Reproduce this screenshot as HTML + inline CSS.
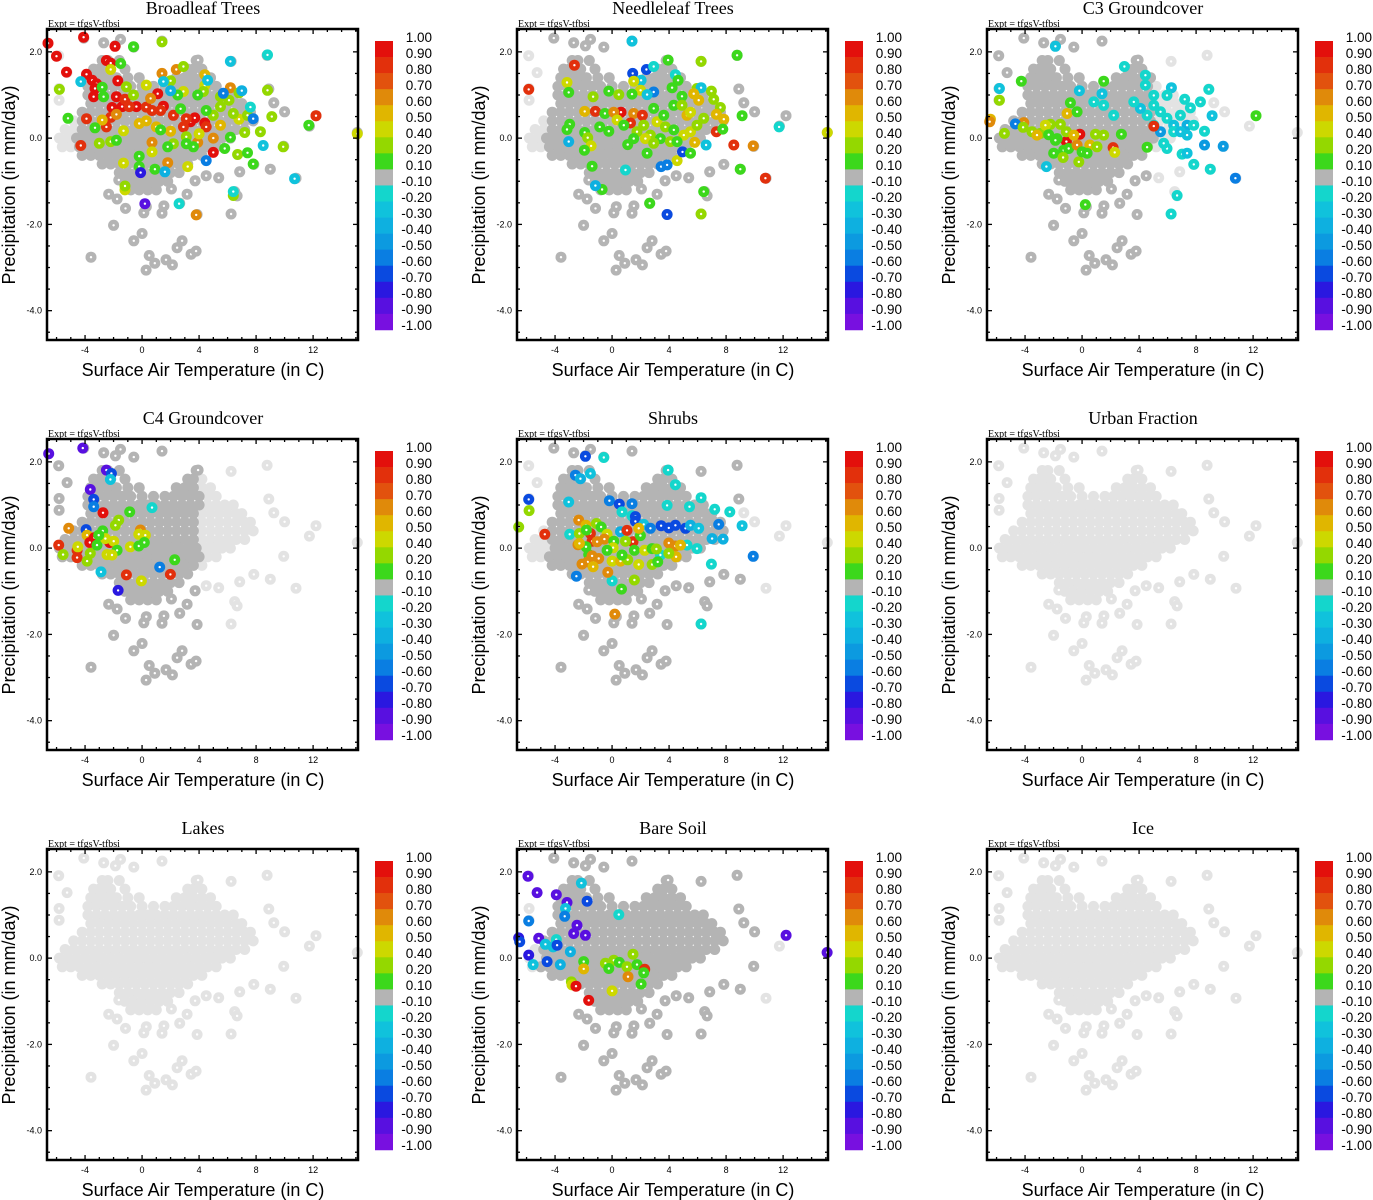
<!DOCTYPE html>
<html><head><meta charset="utf-8"><style>
html,body{margin:0;padding:0;background:#fff;}
svg{display:block;}
.ttl{font-family:"Liberation Serif",serif;font-size:18px;}
.expt{font-family:"Liberation Serif",serif;font-size:10px;}
.tk{font-family:"Liberation Sans",sans-serif;font-size:9px;}
.ax{font-family:"Liberation Sans",sans-serif;font-size:18px;}
.cb{font-family:"Liberation Sans",sans-serif;font-size:13.5px;}
</style></head><body>
<svg id="chart" width="1373" height="1200" xmlns="http://www.w3.org/2000/svg"></svg>
<script>
// ---- data ----
const panelTitles = ["Broadleaf Trees","Needleleaf Trees","C3 Groundcover","C4 Groundcover","Shrubs","Urban Fraction","Lakes","Bare Soil","Ice"];
const xTicks = [-4,0,4,8,12];
const yTicks = [2,0,-2,-4];
const yTickLabels = ["2.0","0.0","-2.0","-4.0"];
const cbLabels = ["1.00","0.90","0.80","0.70","0.60","0.50","0.40","0.20","0.10","-0.10","-0.20","-0.30","-0.40","-0.50","-0.60","-0.70","-0.80","-0.90","-1.00"];
const cbBounds = [1,0.9,0.8,0.7,0.6,0.5,0.4,0.2,0.1,-0.1,-0.2,-0.3,-0.4,-0.5,-0.6,-0.7,-0.8,-0.9,-1.0];
const cbColors = ["#e3100c","#e2300c","#e2520e","#e08a0a","#e0b600","#cdd800","#94d800","#3cd81c","#b4b4b4","#14d6cc","#10c2dc","#0eb0e0","#0c9ae0","#0a7ee2","#0a4ae0","#2a18e0","#5810e0","#7810e0"];
// base cloud (light gray everywhere)
const coreYs = [1.8,1.6,1.4,1.2,1.0,0.8,0.6,0.4,0.2,0.0,-0.2,-0.4,-0.6,-0.8,-1.0,-1.2];
const coreXs = [
 [-2.8,-2.4,-1.6,3.8],
 [-3.4,-3.0,-2.6,-2.2,-1.2,3.2,3.6,4.2],
 [-3.6,-3.0,-2.4,-1.8,-1.0,-0.2,2.4,3.0,3.6,4.2,4.8],
 [-3.8,-3.2,-2.6,-2.0,-1.4,-0.8,0.0,0.8,1.6,2.2,2.8,3.4,4.0,4.6,5.2],
 [-3.8,-3.2,-2.6,-2.0,-1.4,-0.8,-0.2,0.4,1.0,1.6,2.2,2.8,3.4,4.0,4.6,5.2,5.8,6.4],
 [-3.6,-3.0,-2.4,-1.8,-1.2,-0.6,0.0,0.6,1.2,1.8,2.4,3.0,3.6,4.2,4.8,5.4,6.0,6.6,7.0],
 [-4.2,-3.6,-3.0,-2.4,-1.8,-1.2,-0.6,0.0,0.6,1.2,1.8,2.4,3.0,3.6,4.2,4.8,5.4,6.0,6.6,7.2,7.6],
 [-4.8,-4.2,-3.6,-3.0,-2.4,-1.8,-1.2,-0.6,0.0,0.6,1.2,1.8,2.4,3.0,3.6,4.2,4.8,5.4,6.0,6.6,7.2,7.8],
 [-5.4,-4.8,-4.2,-3.6,-3.0,-2.4,-1.8,-1.2,-0.6,0.0,0.6,1.2,1.8,2.4,3.0,3.6,4.2,4.8,5.4,6.0,6.6,7.2],
 [-5.8,-5.2,-4.6,-4.0,-3.4,-2.8,-2.2,-1.6,-1.0,-0.4,0.2,0.8,1.4,2.0,2.6,3.2,3.8,4.4,5.0,5.6,6.2],
 [-5.6,-5.0,-4.4,-3.8,-3.2,-2.6,-2.0,-1.4,-0.8,-0.2,0.4,1.0,1.6,2.2,2.8,3.4,4.0,4.6,5.2],
 [-4.2,-3.6,-3.0,-2.4,-1.8,-1.2,-0.6,0.0,0.6,1.2,1.8,2.4,3.0,3.6,4.2],
 [-2.8,-2.2,-1.6,-1.0,-0.4,0.2,0.8,1.4,2.0,2.6,3.2],
 [-1.6,-1.0,-0.4,0.2,0.8,1.4,2.0,2.6],
 [-1.2,-0.6,0.0,0.6,1.2,1.8],
 [-0.8,-0.2,0.4,1.0]
];
const outliers = [[-4.09,2.32],[-2.69,2.21],[-1.51,2.29],[-1.87,2.14],[-0.58,2.11],[1.4,2.25],[-5.85,1.91],[-5.26,1.52],[3.93,1.81],[6.25,1.78],[8.77,1.92],[-5.82,1.15],[-5.82,0.88],[8.89,1.14],[9.24,0.82],[10.0,0.61],[12.2,0.52],[11.74,0.28],[15.1,0.13],[9.94,-0.19],[10.8,-0.93],[9.0,-0.72],[7.84,-0.61],[6.85,-0.78],[6.5,-1.24],[6.67,-1.34],[6.25,-1.76],[3.86,-1.77],[2.64,-1.51],[3.16,-1.3],[5.38,-0.92],[4.5,-0.87],[-2.0,-2.02],[0.0,-2.21],[-0.58,-2.38],[-3.58,-2.76],[0.5,-2.72],[0.89,-2.9],[0.28,-3.06],[1.68,-2.82],[2.13,-2.94],[2.46,-2.54],[2.81,-2.38],[3.44,-2.69],[3.79,-2.62],[-2.34,-1.3],[-1.75,-1.41],[-1.16,-1.63],[0.12,-1.73],[1.4,-1.74],[1.53,-1.57],[0.3,-1.59],[2.06,-1.18],[3.72,-0.99],[-1.63,-0.97]];
// x-range (per panel) where the base cloud falls in the -0.1..0.1 (dark gray) bin; null = all missing
const darkRanges = [[-4.6,15.5],[-4.6,15.5],[-6.7,5],[-6.7,4],[-4.4,9],null,null,[-5,10],null];
const broadleafPts = [[-6.6,2.2,0.9],[-4.1,2.34,0.9],[-6.0,1.9,0.9],[-5.3,1.53,0.9],[-3.9,1.48,0.9],[-1.9,2.13,0.9],[-2.5,1.8,0.9],[-2.2,1.74,0.9],[-3.5,1.34,0.9],[-3.2,1.26,0.9],[-3.3,1.15,0.9],[-3.4,0.96,0.9],[-1.7,1.33,0.9],[-2.1,0.71,0.9],[-1.8,0.96,0.9],[-1.4,0.73,0.9],[-0.4,0.73,0.9],[1.5,0.74,0.9],[1.1,1.03,0.9],[3.4,0.38,0.9],[3.7,0.47,0.9],[4.4,0.35,0.9],[5.0,-0.33,0.9],
[-4.3,-0.17,0.8],[-3.9,0.45,0.8],[-2.5,0.26,0.8],[-2.2,0.48,0.8],[-1.2,0.9,0.8],[0.7,0.64,0.8],[1.3,0.64,0.8],[2.2,0.53,0.8],[2.9,0.26,0.8],[12.2,0.52,0.8],[-0.9,0.73,0.8],[0.3,0.72,0.8],[3.1,0.45,0.8],[4.5,0.26,0.8],
[2.4,1.59,0.6],[1.4,1.5,0.6],[0.6,0.92,0.6],[1.8,-0.57,0.6],[3.8,-1.78,0.6],[6.2,1.17,0.6],[0.7,-0.1,0.6],[5.0,0.0,0.6],[3.9,-0.1,0.6],[-1.8,0.55,0.6],
[-2.8,0.42,0.5],[0.3,0.4,0.5],[2.0,0.16,0.5],[4.4,1.47,0.5],[-0.2,0.34,0.5],[1.0,0.26,0.5],[5.5,0.3,0.5],
[15.1,0.1,0.4],[-2.2,1.59,0.4],[0.3,1.23,0.4],[2.9,1.08,0.4],[4.4,1.22,0.4],[-1.2,-1.2,0.4],[-1.3,-0.58,0.4],[0.7,-0.32,0.4],[3.2,-0.66,0.4],[6.8,0.44,0.4],[-1.3,0.17,0.4],[4.0,0.1,0.4],
[-5.8,1.13,0.2],[1.4,2.23,0.2],[2.9,1.66,0.2],[2.0,1.33,0.2],[-1.1,1.19,0.2],[-0.6,1.0,0.2],[4.3,1.08,0.2],[5.5,0.96,0.2],[6.8,1.05,0.2],[8.8,1.11,0.2],[9.1,0.5,0.2],[9.9,-0.2,0.2],[6.4,-1.33,0.2],[6.7,-0.38,0.2],[-1.2,-1.11,0.2],[5.5,0.73,0.2],[6.4,0.57,0.2],[7.4,0.53,0.2],[7.2,0.13,0.2],[8.3,0.15,0.2],[-3.0,-0.12,0.2],[-2.2,-0.08,0.2],[3.1,0.03,0.2],[2.2,-0.13,0.2],[5.0,0.53,0.2],[6.1,0.88,0.2],
[-0.6,2.12,0.1],[-1.5,1.73,0.1],[-5.2,0.46,0.1],[-3.3,0.24,0.1],[-2.8,1.18,0.1],[-2.7,0.96,0.1],[-0.2,-0.42,0.1],[-0.2,-0.66,0.1],[0.9,-0.72,0.1],[2.5,1.0,0.1],[3.9,1.0,0.1],[5.8,-0.24,0.1],[7.4,-0.34,0.1],[7.8,-0.6,0.1],[11.7,0.3,0.1],[3.1,-0.13,0.1],[3.6,-0.2,0.1],[1.3,0.19,0.1],[2.7,0.68,0.1],[4.5,0.64,0.1],[6.2,0.02,0.1],[1.8,-0.2,0.1],[-1.8,-0.05,0.1],
[8.8,1.93,-0.2],[6.2,1.78,-0.3],[-4.3,1.31,-0.3],[1.5,1.31,-0.3],[4.6,1.34,-0.3],[7.6,0.72,-0.2],[2.0,1.1,-0.4],[7.0,1.1,-0.4],[8.5,-0.17,-0.3],[10.7,-0.94,-0.3],[6.4,-1.24,-0.2],[2.6,-1.52,-0.2],[4.5,-0.52,-0.6],[7.8,0.45,-0.6],[0.2,-1.52,-0.9],[-0.1,-0.8,-0.8],[1.6,-0.78,-0.4],[5.7,1.04,-0.6]];
const needleleafPts = [[1.4,2.25,-0.3],[3.93,1.81,0.1],[6.25,1.78,0.2],[8.77,1.92,0.1],[-2.64,1.69,0.8],[2.41,1.59,-0.7],[1.45,1.5,-0.7],[2.92,1.66,-0.2],[4.44,1.47,-0.2],[2.04,1.34,-0.3],[4.63,1.34,0.1],[-5.85,1.13,0.8],[-3.16,1.29,0.4],[-3.04,1.06,0.1],[1.52,1.32,0.4],[2.0,1.11,0.4],[2.92,1.07,-0.6],[2.46,1.01,-0.3],[4.21,1.17,0.1],[5.96,1.15,0.2],[6.97,1.09,0.2],[6.25,1.17,-0.3],[5.73,1.03,0.5],[6.08,0.88,0.5],[7.13,0.9,0.2],[7.6,0.71,0.2],[4.91,0.97,0.1],[-1.33,0.96,0.2],[-0.23,1.09,0.1],[0.47,1.01,0.2],[1.4,1.02,0.1],[-1.92,0.62,0.5],[-1.17,0.62,0.8],[-0.5,0.57,0.1],[0.63,0.6,0.9],[1.52,0.57,0.6],[2.13,0.53,0.8],[1.29,0.35,0.8],[0.12,0.6,0.6],[-2.97,0.32,0.1],[-3.16,0.2,0.1],[-0.87,0.26,0.1],[-0.23,0.16,0.1],[-1.92,0.13,0.1],[-1.71,0.01,0.2],[-1.47,-0.18,0.4],[-1.94,-0.28,0.1],[-1.4,-0.65,0.1],[-0.7,-1.19,0.1],[1.1,-0.15,0.1],[2.46,-0.35,0.1],[4.33,0.76,0.1],[4.91,0.76,0.2],[5.26,0.53,0.5],[5.5,0.6,0.4],[7.32,0.55,0.5],[7.84,0.44,0.5],[9.12,0.52,0.1],[7.32,0.15,0.8],[7.77,0.21,0.1],[8.54,-0.16,0.8],[9.9,-0.18,0.6],[11.72,0.26,-0.2],[15.1,0.13,0.4],[10.76,-0.93,0.8],[9.0,-0.72,0.1],[6.43,-1.24,0.1],[6.25,-1.76,0.2],[2.64,-1.51,0.1],[3.86,-1.77,-0.7],[4.56,-0.52,0.4],[4.94,-0.32,-0.7],[5.5,-0.35,0.1],[3.44,-0.66,-0.6],[3.86,-0.62,-0.6],[6.6,-0.16,-0.3],[5.8,-0.1,0.5],[-3.04,-0.08,-0.4],[0.94,-0.74,-0.2],[-1.17,-1.1,-0.4],
[2.22,0.3,0.2],[2.69,0.07,0.2],[3.16,0.38,0.4],[3.74,0.26,0.2],[4.33,0.19,0.1],[5.03,0.07,0.4],[3.39,-0.01,0.1],[4.09,-0.08,0.2],[3.63,0.53,0.1],[2.92,0.69,0.1],[1.75,0.15,0.2],[1.52,-0.01,0.1],[2.34,-0.01,0.4],[2.92,-0.12,0.2],[4.56,-0.08,0.1],[5.5,0.15,0.4],[5.96,0.3,0.2],[6.43,0.46,0.2],[0.35,0.42,0.4],[0.82,0.3,0.1]];
const c3Pts = [[-1.87,2.13,-0.3],[2.97,1.66,-0.2],[4.44,1.46,-0.2],[-4.26,1.32,0.1],[1.52,1.32,0.1],[-5.8,1.15,-0.3],[-5.8,0.88,0.2],[-0.19,1.1,-0.3],[1.4,1.03,-0.3],[4.44,1.23,-0.2],[6.27,1.17,-0.3],[7.2,0.9,-0.2],[7.6,0.7,-0.2],[8.3,0.84,-0.2],[8.89,1.13,-0.2],[9.12,0.52,-0.3],[12.2,0.52,0.1],[8.59,0.16,-0.2],[8.59,-0.16,-0.5],[9.9,-0.19,-0.5],[7.02,-0.37,-0.2],[7.37,-0.35,-0.3],[7.84,-0.61,-0.2],[9.0,-0.72,-0.2],[10.76,-0.93,-0.6],[6.67,-1.33,-0.2],[6.25,-1.76,-0.2],[5.96,-0.24,-0.2],[5.73,-0.12,-0.2],
[4.56,0.53,-0.2],[5.03,0.76,-0.2],[5.5,0.61,-0.2],[5.96,0.46,-0.2],[6.43,0.3,-0.3],[6.9,0.53,-0.2],[7.37,0.3,-0.4],[7.84,0.3,-0.2],[6.43,0.15,-0.2],[5.03,0.3,-0.2],[4.09,0.69,-0.3],[3.63,0.84,-0.2],[2.22,0.53,-0.2],[1.52,0.76,-0.2],[0.82,0.84,-0.2],[5.03,0.99,-0.2],[5.96,0.99,-0.2],[7.37,0.07,-0.3],[5.5,0.15,-0.5],[6.9,0.15,-0.3],
[5.03,0.28,0.8],[-0.16,0.09,0.9],[-1.1,-0.08,0.9],[2.18,-0.22,0.8],[2.29,-0.33,0.4],[4.56,-0.21,0.1],[2.76,0.09,0.1],[1.52,0.07,0.2],[0.94,0.09,0.2],[0.23,-1.54,0.1],[-0.23,-0.55,0.2],[-4.09,0.36,0.6],[-4.68,0.33,-0.6],[-4.14,0.25,0.2],[-5.45,0.11,0.2],[-6.43,0.44,0.5],[-6.48,0.38,0.6],[-3.51,0.15,0.2],[-2.92,0.11,0.2],[-3.16,0.07,0.5],[-2.22,0.32,0.2],[-2.57,0.3,0.4],[-1.52,0.32,0.2],[-1.05,0.57,0.5],[-0.82,0.82,0.1],[-0.35,0.61,0.1],[-2.34,0.08,0.1],[-1.1,0.15,0.2],[-1.75,-0.01,0.1],[-1.99,-0.35,0.1],[-1.29,-0.28,0.1],[-0.94,-0.24,0.1],[-1.33,-0.45,0.2],[-0.35,-0.16,0.6],[0.54,-0.16,0.5],[1.05,-0.2,0.2],[0.0,-0.32,0.1],[0.35,-0.35,0.1],[-2.5,-0.66,-0.3],[-0.58,0.07,0.5],[-1.87,-0.05,0.1]];
const c4Pts = [[-4.16,2.32,-0.9],[-6.55,2.19,-0.9],[-2.5,1.81,-0.9],[-2.15,1.73,-0.7],[-2.22,1.59,-0.3],[-3.63,1.36,-0.9],[-3.39,1.13,-0.7],[-3.39,0.96,-0.6],[0.7,0.94,-0.2],[-2.74,0.82,0.9],[-0.87,0.84,0.1],[-3.93,0.43,-0.7],[-1.64,0.65,0.2],[-1.87,0.53,0.2],[-5.15,0.46,0.6],[-0.12,0.42,0.6],[-0.23,0.32,0.4],[0.23,0.3,0.4],[-2.76,0.4,0.1],[-3.86,0.3,0.5],[-3.35,0.24,0.9],[-3.67,0.13,0.9],[-5.85,0.07,0.8],[-4.56,-0.05,0.8],[-4.56,-0.22,0.8],[-5.54,-0.15,0.2],[-4.51,0.03,0.4],[-3.86,-0.3,0.2],[-3.63,-0.12,0.2],[-3.16,0.07,0.1],[-2.27,0.13,0.9],[-1.99,0.16,0.4],[-2.57,0.22,0.4],[-1.75,-0.05,0.1],[-2.46,-0.15,0.4],[-2.11,-0.16,0.4],[-0.82,0.03,0.4],[-0.23,0.05,0.1],[0.16,0.13,0.1],[2.29,-0.27,0.1],[1.24,-0.44,-0.6],[1.99,-0.61,0.8],[-1.1,-0.62,0.8],[-0.05,-0.76,0.4],[-1.68,-0.98,-0.8],[-2.88,-0.55,-0.3],[-3.04,0.3,0.1]];
const shrubsPts = [[-1.87,2.13,-0.7],[-0.58,2.1,-0.2],[3.93,1.81,-0.2],[4.44,1.47,-0.2],[-1.52,1.73,-0.3],[-2.57,1.69,-0.6],[-2.22,1.61,-0.4],[-5.85,1.13,-0.7],[-5.82,0.87,0.2],[-6.55,0.49,0.2],[-3.04,1.07,-0.3],[-0.19,1.1,-0.6],[0.51,1.02,-0.7],[1.4,1.03,-0.6],[0.7,0.84,-0.2],[1.4,0.75,-0.2],[1.64,0.73,-0.7],[1.64,0.62,-0.7],[3.86,0.99,-0.2],[5.43,0.96,-0.2],[6.25,1.17,-0.2],[7.2,0.9,-0.2],[8.26,0.84,-0.2],[9.12,0.52,-0.3],[9.9,-0.19,-0.6],[6.97,-0.37,-0.2],[6.25,-1.76,-0.2],[3.44,0.52,-0.7],[3.98,0.47,-0.7],[4.44,0.53,-0.7],[5.15,0.46,-0.7],[5.5,0.53,-0.4],[6.08,0.46,-0.3],[7.02,0.22,-0.4],[7.48,0.55,-0.6],[7.79,0.21,-0.4],[5.26,0.07,-0.2],[5.96,-0.01,-0.2],[3.39,-0.16,-0.2],[2.22,0.55,-0.3],[2.69,0.46,-0.6],[0.59,0.38,-0.4],[0.0,-0.76,-0.2],[-2.5,-0.65,-0.6],[-2.97,0.32,-0.2],
[-4.72,0.32,0.8],[-2.34,0.65,0.6],[-1.83,0.53,0.5],[-1.1,0.57,0.2],[-0.77,0.49,0.1],[-1.52,0.34,0.8],[-1.4,0.16,0.8],[-2.29,0.34,0.2],[-0.35,0.32,0.4],[-0.54,0.21,0.6],[-1.05,0.15,0.6],[-2.39,0.08,0.6],[-1.83,0.03,0.1],[0.12,0.16,0.1],[0.07,0.01,0.4],[1.05,0.41,0.8],[1.47,0.15,0.8],[1.99,0.29,0.1],[1.87,0.46,0.5],[0.94,0.16,0.2],[1.57,-0.05,0.1],[2.29,-0.05,0.4],[2.81,-0.01,0.1],[3.11,-0.02,0.2],[3.98,0.12,0.6],[4.44,0.05,0.6],[4.8,0.07,0.5],[4.49,-0.2,0.5],[3.98,-0.12,0.2],[-1.64,-0.15,0.1],[-1.4,-0.18,0.6],[-0.94,-0.24,0.6],[-1.71,-0.32,0.6],[-2.11,-0.37,0.6],[-1.33,-0.43,0.5],[-0.35,-0.05,0.1],[0.0,-0.3,0.4],[0.59,-0.3,0.5],[1.1,-0.27,0.2],[0.7,-0.16,0.1],[1.87,-0.38,0.4],[2.81,-0.38,0.2],[3.2,-0.32,0.1],[-0.3,-0.56,0.6],[1.57,-0.74,0.2],[0.66,-0.95,0.1],[0.19,-1.53,0.6],[-1.8,0.42,0.1],[-2.29,0.11,0.5]];
const bareSoilPts = [[-5.9,1.9,-0.9],[-5.26,1.52,-0.9],[-3.91,1.47,-0.9],[-3.16,1.29,-0.9],[-2.15,1.74,-0.3],[-1.75,1.32,-0.7],[-3.27,1.15,-0.3],[-3.32,0.97,-0.6],[-5.85,0.86,-0.6],[0.47,1.01,-0.2],[-6.55,0.47,-0.8],[-6.48,0.38,-0.7],[-5.15,0.46,-0.9],[-4.68,0.32,-0.3],[-3.91,0.43,-0.2],[-4.14,0.26,-0.3],[-3.86,0.3,-0.7],[-5.85,0.07,-0.8],[-5.54,-0.15,-0.3],[-4.56,-0.08,-0.7],[-3.63,-0.15,-0.4],[-2.92,0.15,-0.4],[-2.69,0.57,-0.9],[-1.87,0.53,-0.9],[12.21,0.53,-0.9],[15.09,0.13,-0.9],[-2.46,0.76,-0.9],
[-1.99,-0.08,0.1],[-1.99,-0.25,0.5],[-0.47,-0.12,0.2],[0.12,-0.05,0.2],[0.51,-0.1,0.1],[-0.23,-0.24,0.1],[1.05,-0.2,0.2],[1.75,-0.15,0.1],[1.47,0.09,0.2],[2.29,-0.26,0.8],[2.22,-0.34,0.1],[1.12,-0.43,0.6],[2.04,-0.6,0.1],[-2.85,-0.55,0.2],[-2.81,-0.62,0.4],[-2.53,-0.65,0.9],[-1.64,-0.98,0.9],[0.0,-0.76,0.4]];
const panelPts = [broadleafPts,needleleafPts,c3Pts,c4Pts,shrubsPts,[],[],bareSoilPts,[]];

// ---- drawing ----
const NS = "http://www.w3.org/2000/svg";
const svg = document.getElementById("chart");
const PX0 = 47, PX1 = 358, PY0 = 29, PY1 = 340;
const X_MIN = -6.67, X_MAX = 15.15, Y_MIN = -4.68, Y_MAX = 2.53;
function sx(v){ return PX0 + (v - X_MIN) / (X_MAX - X_MIN) * (PX1 - PX0); }
function sy(v){ return PY1 - (v - Y_MIN) / (Y_MAX - Y_MIN) * (PY1 - PY0); }
function mk(tag, attrs, parent){ const e = document.createElementNS(NS, tag); for (const k in attrs) e.setAttribute(k, attrs[k]); parent.appendChild(e); return e; }
function colorOf(v){
  for (let i = 0; i < cbColors.length; i++){ if (v < cbBounds[i] - 1e-9 && v >= cbBounds[i+1] - 1e-9) return cbColors[i]; }
  return v >= 1 ? cbColors[0] : cbColors[cbColors.length - 1];
}
function dot(g, x, y, fill, center){
  const c = mk("circle", {cx: sx(x).toFixed(1), cy: sy(y).toFixed(1), r: 5.5, fill: fill}, g);
  
  
  if (center) mk("circle", {cx: sx(x).toFixed(1), cy: sy(y).toFixed(1), r: 1.2, fill: "#fff"}, g);
}
function baseCloud(){
  const pts = [];
  coreYs.forEach((y, i) => coreXs[i].forEach(x => pts.push([x, y, true])));
  outliers.forEach(p => pts.push([p[0], p[1], false]));
  return pts;
}
const cloud = baseCloud();

panelTitles.forEach((title, p) => {
  const ox = (p % 3) * 470, oy = Math.floor(p / 3) * 410;
  const g = mk("g", {transform: `translate(${ox},${oy})`}, svg);
  
  
  const t = mk("text", {x: 203, y: 14, "text-anchor": "middle", class: "ttl"}, g); t.textContent = title;
  
  
  const ex = mk("text", {x: 48, y: 27, class: "expt"}, g); ex.textContent = "Expt = tfgsV-tfbsi";
  
  
  const pg = mk("g", {}, g);
  
  
  const dr = darkRanges[p];
  cloud.forEach(([x, y, core]) => dot(pg, x, y, "#e3e3e3", !core));
  if (dr) cloud.forEach(([x, y, core]) => { if (x >= dr[0] && x <= dr[1]) dot(pg, x, y, "#b4b4b4", !core); });
  panelPts[p].forEach(([x, y, v]) => dot(pg, x, y, colorOf(v), true));
  const fr = mk("rect", {x: PX0, y: PY0, width: PX1 - PX0, height: PY1 - PY0, fill: "none", stroke: "#000", "stroke-width": 2.5}, g);
  
  
  for (let v = -6; v <= 15; v++){
    const major = xTicks.includes(v), L = major ? 5 : 3, X = sx(v);
    mk("line", {x1: X, x2: X, y1: PY1, y2: PY1 - L, stroke: "#000", "stroke-width": 1.3}, g);
    mk("line", {x1: X, x2: X, y1: PY0, y2: PY0 + L, stroke: "#000", "stroke-width": 1.3}, g);
  }
  for (let k = -9; k <= 5; k++){
    const v = k * 0.5, major = yTicks.includes(v), L = major ? 5 : 3, Y = sy(v);
    mk("line", {x1: PX0, x2: PX0 + L, y1: Y, y2: Y, stroke: "#000", "stroke-width": 1.3}, g);
    mk("line", {x1: PX1, x2: PX1 - L, y1: Y, y2: Y, stroke: "#000", "stroke-width": 1.3}, g);
  }
  xTicks.forEach(v => { const tt = mk("text", {x: sx(v), y: 353, "text-anchor": "middle", class: "tk"}, g); tt.textContent = String(v);
    
     });
  yTicks.forEach((v, i) => { const tt = mk("text", {x: 42, y: sy(v) + 3, "text-anchor": "end", class: "tk"}, g); tt.textContent = yTickLabels[i];
    
     });
  const xl = mk("text", {x: 203, y: 376, "text-anchor": "middle", class: "ax"}, g); xl.textContent = "Surface Air Temperature (in C)";
  
  
  const yl = mk("text", {x: 0, y: 0, "text-anchor": "middle", class: "ax", transform: "translate(15,185) rotate(-90)"}, g); yl.textContent = "Precipitation (in mm/day)";
  
  
  const cb = mk("g", {}, g);
  
  
  cbColors.forEach((c, i) => { const r = mk("rect", {x: 375, y: 41 + i * 16.05, width: 18, height: 16.4, fill: c}, cb);
    
     });
  cbLabels.forEach((s, i) => { const tt = mk("text", {x: 432, y: 42 + i * 16, "text-anchor": "end", class: "cb"}, cb); tt.textContent = s;
    
     });
});
</script>
</body></html>
